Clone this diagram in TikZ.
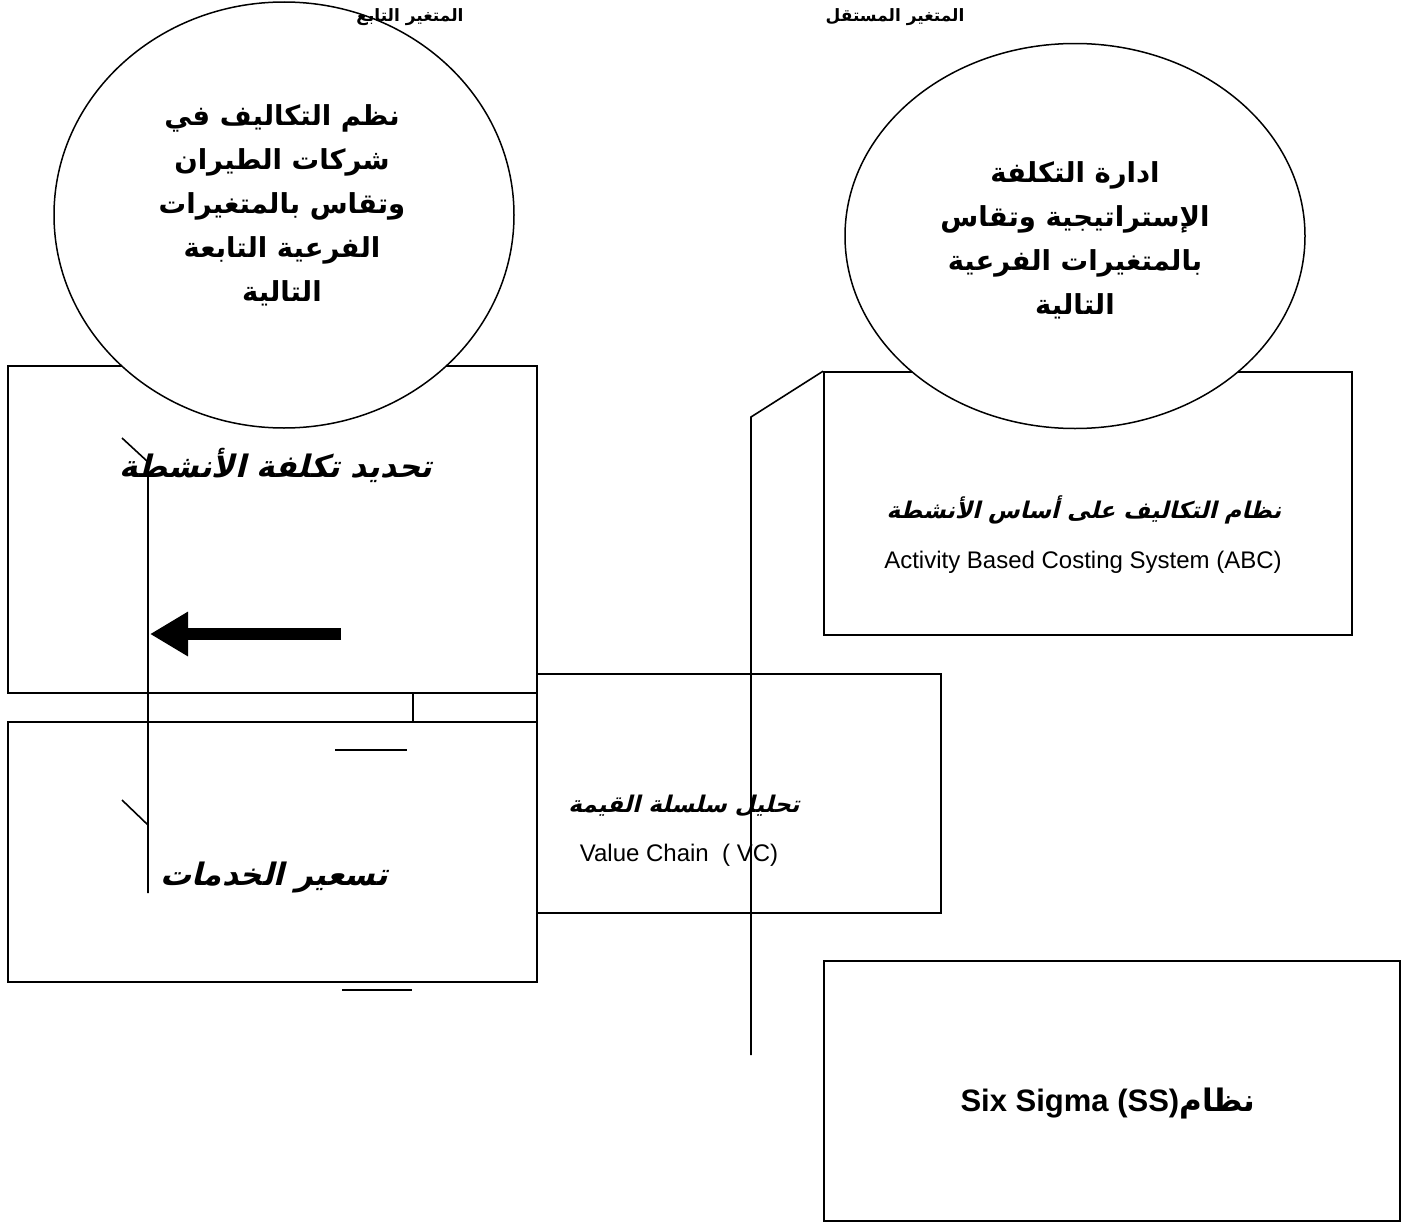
\documentclass[tikz,border=0pt]{standalone}
\usepackage{fontspec}
\usetikzlibrary{shapes.geometric,arrows.meta}
\setmainfont{Liberation Sans}
\newfontfamily\arabicbold[Script=Arabic]{DejaVu Sans Bold}
\newfontfamily\arabicit[Script=Arabic,FakeSlant=0.25]{DejaVu Sans Bold}
\TeXXeTstate=1
\tikzset{
  panel/.style={draw=black, line width=1.7pt, rectangle, inner sep=0pt},
  bubble/.style={draw=black, line width=1.5pt, ellipse, fill=white, inner sep=0pt},
  rule/.style={draw=black, line width=1.6pt},
  artitle/.style={font=\arabicit\fontsize{31}{36}\selectfont, inner sep=0pt},
  arsub/.style={font=\arabicit\fontsize{23}{28}\selectfont, inner sep=0pt},
  bubbletext/.style={font=\arabicbold\fontsize{27.5}{44}\selectfont, align=center, inner sep=0pt},
  headtext/.style={font=\arabicbold\fontsize{17}{20}\selectfont, inner sep=0pt},
  entext/.style={font=\fontsize{24}{28}\selectfont, inner sep=0pt},
}
\begin{document}
\begin{tikzpicture}[x=1pt,y=-1pt]
\useasboundingbox[fill=white] (0,0) rectangle (1408,1226);

% boxes
\node[panel, minimum width=529, minimum height=327] (actBox) at (272.5,529.5) {};
\node[panel, minimum width=529, minimum height=260] (priceBox) at (272.5,852) {};
\node[panel, minimum width=404, minimum height=239] (vcBox) at (739,793.5) {};
\node[panel, minimum width=528, minimum height=263] (abcBox) at (1088,503.5) {};
\node[panel, minimum width=576, minimum height=260] (ssBox) at (1112,1091) {};

% variable bubbles
\node[bubble, minimum width=460, minimum height=426] (depBubble) at (284,215) {};
\node[bubble, minimum width=460, minimum height=385] (indBubble) at (1075,236) {};

% headings
\node[headtext] (hDep) at (410,17) {\beginR المتغير التابع\endR};
\node[headtext] (hInd) at (895,17) {\beginR المتغير المستقل\endR};

% bubble texts
\node[bubbletext] (depText) at (282,205) {\beginR نظم التكاليف في\endR\\ \beginR شركات الطيران\endR\\ \beginR وتقاس بالمتغيرات\endR\\ \beginR الفرعية التابعة\endR\\ \beginR التالية\endR};
\node[bubbletext] (indText) at (1075,240) {\beginR ادارة التكلفة\endR\\ \beginR الإستراتيجية وتقاس\endR\\ \beginR بالمتغيرات الفرعية\endR\\ \beginR التالية\endR};

% box texts
\node[artitle] (actText) at (276,465) {\beginR تحديد تكلفة الأنشطة\endR};
\node[artitle] (priceText) at (274,877) {\beginR تسعير الخدمات\endR};
\node[arsub] (vcAr) at (684,806) {\beginR تحليل سلسلة القيمة\endR};
\node[entext] (vcEn) at (679,855) {Value Chain ~( VC)};
\node[arsub] (abcAr) at (1084,510) {\beginR نظام التكاليف على أساس الأنشطة\endR};
\node[entext] (abcEn) at (1083,562) {Activity Based Costing System (ABC)};
\node[inner sep=0pt, font=\bfseries\fontsize{31}{36}\selectfont] (ssText) at (1108,1103) {Six Sigma (SS){\arabicbold\beginR نظام\endR}};

% link between the two dependent boxes
\coordinate (linkX) at (413,0);
\draw[rule] (actBox.south -| linkX) -- (priceBox.north -| linkX);

% left bracket line
\coordinate (lTop) at (148,462);
\coordinate (lBot) at (148,893);
\coordinate (lMid) at (148,825);
\coordinate (lTick1) at (122,438);
\coordinate (lTick2) at (122,800);
\draw[rule] (lTick1) -- (lTop) -- (lBot);
\draw[rule] (lTick2) -- (lMid);

% middle bracket line
\coordinate (mTop) at (751,417);
\coordinate (mBot) at (751,1055);
\draw[rule] (abcBox.north west) -- (mTop) -- (mBot);

% short strokes
\coordinate (sA1) at (335,750);
\coordinate (sA2) at (407,750);
\coordinate (sB1) at (342,990);
\coordinate (sB2) at (412,990);
\draw[rule] (sA1) -- (sA2);
\draw[rule] (sB1) -- (sB2);

% effect arrow
\coordinate (arrFrom) at (341,634);
\coordinate (arrTo) at (150,634);
\draw[line width=12pt, -{Triangle[length=38pt,width=42pt]}] (arrFrom) -- (arrTo);
\end{tikzpicture}
\end{document}
